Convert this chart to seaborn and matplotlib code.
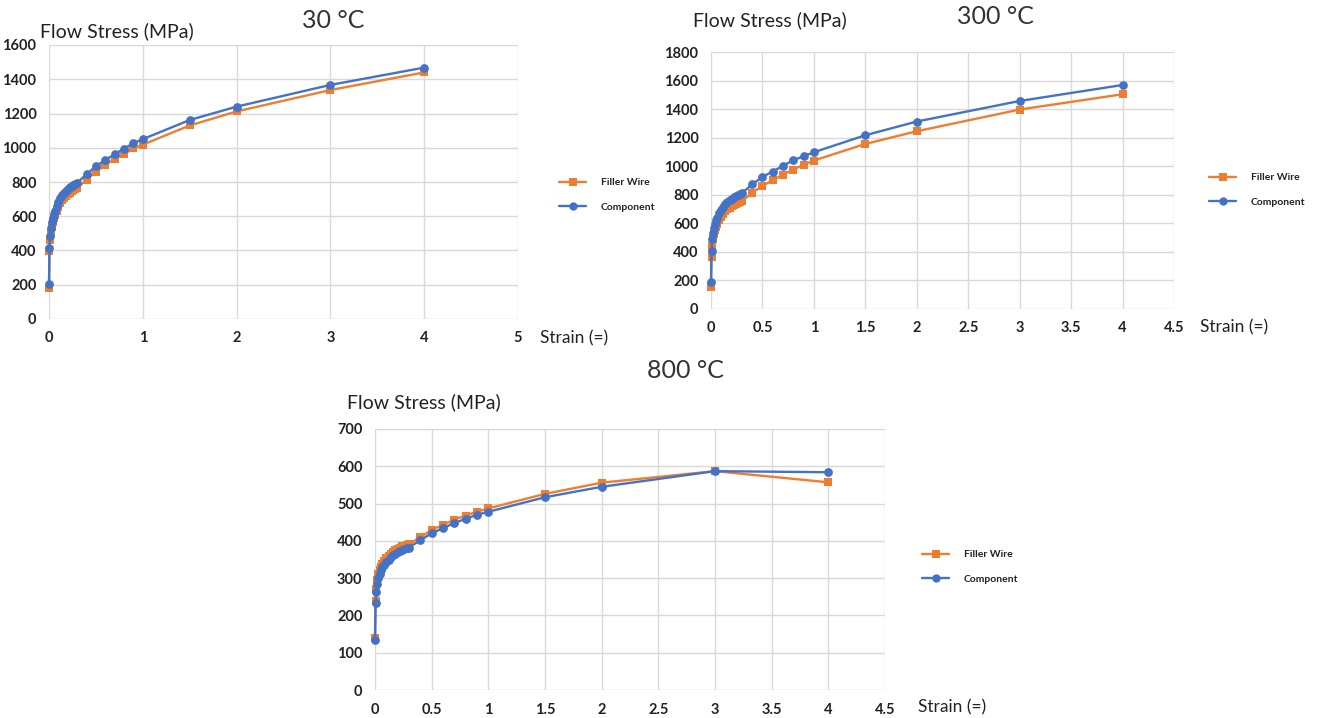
import numpy as np
import pandas as pd
import matplotlib
matplotlib.use("Agg")
import matplotlib.pyplot as plt
from matplotlib.lines import Line2D
import seaborn as sns

# ---------------- data ----------------
strain = [0, 0.005, 0.01, 0.02, 0.03, 0.04, 0.05, 0.06, 0.08, 0.10, 0.12, 0.14,
          0.16, 0.18, 0.20, 0.22, 0.24, 0.26, 0.28, 0.30, 0.4, 0.5, 0.6, 0.7,
          0.8, 0.9, 1.0, 1.5, 2, 3, 4]

filler_30 = [182, 396, 462, 505, 538, 565, 587, 605, 633, 656, 675, 692, 706, 718,
             729, 738, 746, 753, 759, 765, 813, 859, 899, 934, 963, 996, 1018,
             1130, 1212, 1337, 1440]
comp_30 = [207, 415, 482, 530, 565, 592, 614, 633, 662, 686, 706, 722, 737, 750,
           761, 770, 778, 785, 790, 795, 845, 892, 928, 962, 995, 1027, 1050,
           1162, 1240, 1367, 1468]

filler_300 = [156, 366, 440, 490, 525, 553, 575, 594, 623, 647, 666, 683, 697, 709,
              720, 729, 737, 744, 750, 755, 814, 863, 902, 942, 977, 1010, 1040,
              1156, 1245, 1397, 1504]
comp_300 = [191, 408, 487, 535, 570, 598, 620, 640, 670, 695, 716, 733, 748, 761,
            773, 783, 792, 800, 806, 812, 872, 926, 963, 1003, 1042, 1070, 1098,
            1217, 1313, 1457, 1569]

filler_800 = [140, 240, 271, 295, 310, 322, 331, 339, 346, 353, 359, 365, 370, 375,
              379, 382, 385, 387, 389, 391, 410, 429, 443, 457, 468, 478, 487,
              526, 556, 587, 557]
comp_800 = [134, 232, 262, 285, 300, 312, 322, 330, 335, 343, 350, 356, 361, 366,
            370, 373, 376, 378, 380, 382, 402, 420, 434, 448, 459, 470, 478,
            517, 545, 587, 584]

series_names = ["Filler Wire", "Component"]
titles = ["30 \u00b0C", "300 \u00b0C", "800 \u00b0C"]
x_ticks_30 = [0, 1, 2, 3, 4, 5]
x_ticks_half = [0, 0.5, 1, 1.5, 2, 2.5, 3, 3.5, 4, 4.5]
y_ticks_30 = [0, 200, 400, 600, 800, 1000, 1200, 1400, 1600]
y_ticks_300 = [0, 200, 400, 600, 800, 1000, 1200, 1400, 1600, 1800]
y_ticks_800 = [0, 100, 200, 300, 400, 500, 600, 700]

# ---------------- style ----------------
sns.set_style("white")
plt.rcParams['font.family'] = ['Lato', 'DejaVu Sans']

ORANGE = "#ED7D31"
BLUE = "#4472C4"
palette = {"Filler Wire": ORANGE, "Component": BLUE}
markers = {"Filler Wire": "s", "Component": "o"}

W, H = 1317, 718
fig = plt.figure(figsize=(W / 100, H / 100), dpi=100)


def add_ax(left, top, right, bottom):
    return fig.add_axes([left / W, 1 - bottom / H, (right - left) / W, (bottom - top) / H])


def make_df(f, c):
    return pd.DataFrame({
        "strain": strain * 2,
        "stress": list(f) + list(c),
        "series": ["Filler Wire"] * len(strain) + ["Component"] * len(strain),
    })


panels = [
    dict(box=(49, 45, 518, 319), data=(filler_30, comp_30), xt=x_ticks_30, xl=(0, 5),
         yt=y_ticks_30, yl=(0, 1600), title=titles[0], title_xy=(333, 20),
         ylab_xy=(40, 31), xlab_xy=(540, 338), leg_xy=(550, 195)),
    dict(box=(711, 52, 1174, 309), data=(filler_300, comp_300), xt=x_ticks_half, xl=(0, 4.5),
         yt=y_ticks_300, yl=(0, 1800), title=titles[1], title_xy=(995, 17),
         ylab_xy=(693, 20), xlab_xy=(1200, 327), leg_xy=(1200, 190)),
    dict(box=(375, 429, 885, 690), data=(filler_800, comp_800), xt=x_ticks_half, xl=(0, 4.5),
         yt=y_ticks_800, yl=(0, 700), title=titles[2], title_xy=(685, 370),
         ylab_xy=(347, 402), xlab_xy=(918, 707), leg_xy=(913, 567)),
]

for p in panels:
    ax = add_ax(*p["box"])
    df = make_df(*p["data"])
    sns.lineplot(data=df, x="strain", y="stress", hue="series", style="series",
                 hue_order=series_names, style_order=series_names,
                 palette=palette, markers=markers, dashes=False, sort=False,
                 linewidth=1.7, markersize=6.3, markeredgewidth=0, legend=False, ax=ax)
    ax.set_xlim(*p["xl"])
    ax.set_ylim(*p["yl"])
    ax.set_xticks(p["xt"])
    ax.set_xticklabels([f"{t:g}" for t in p["xt"]])
    ax.set_yticks(p["yt"])
    ax.set_xlabel("")
    ax.set_ylabel("")
    ax.grid(True, color="#d9d9d9", linewidth=1.0)
    ax.set_axisbelow(True)
    for s in ax.spines.values():
        s.set_visible(False)
    ax.tick_params(axis="both", length=0, labelsize=10.5, colors="#222222")
    ax.tick_params(axis="x", pad=9)
    ax.tick_params(axis="y", pad=9)
    for lab in ax.get_xticklabels() + ax.get_yticklabels():
        lab.set_fontweight("bold")
    for ln in ax.lines:
        ln.set_clip_on(False)

    tx, ty = p["title_xy"]
    fig.text(tx / W, 1 - ty / H, p["title"], ha="center", va="center",
             fontsize=18, color="#333333")
    yx, yy = p["ylab_xy"]
    fig.text(yx / W, 1 - yy / H, "Flow Stress (MPa)", ha="left", va="center",
             fontsize=14, color="#222222")
    xx, xy = p["xlab_xy"]
    fig.text(xx / W, 1 - xy / H, "Strain (=)", ha="left", va="center",
             fontsize=12.5, color="#222222")

    handles = [Line2D([0], [0], color=palette[n], marker=markers[n], lw=1.7,
                      markersize=6, markeredgewidth=0) for n in series_names]
    lx, ly = p["leg_xy"]
    leg = fig.legend(handles, series_names, loc="center left",
                     bbox_to_anchor=(lx / W, 1 - ly / H), frameon=False,
                     prop={"size": 7.5, "weight": "bold"}, labelspacing=1.5,
                     handlelength=2.6, handletextpad=1.4)
    for t in leg.get_texts():
        t.set_color("#222222")

fig.savefig("out.png", dpi=100, facecolor="white")
